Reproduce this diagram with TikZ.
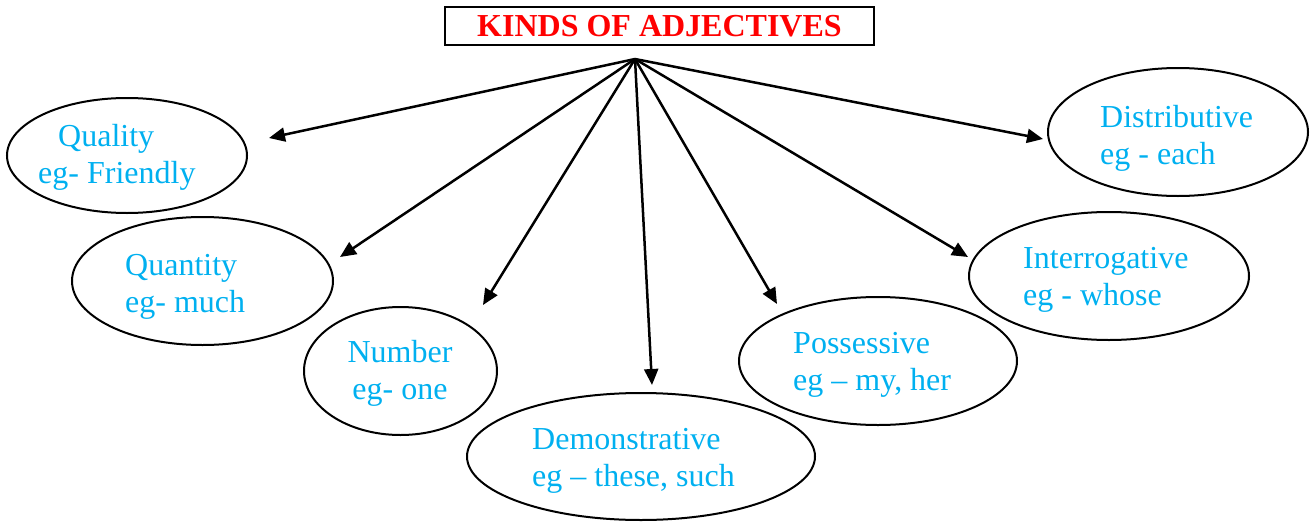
\documentclass[tikz,border=0pt]{standalone}
\usepackage{fontspec}
\setmainfont{Liberation Serif}
\usetikzlibrary{arrows.meta,shapes.geometric}
\definecolor{kindblue}{RGB}{0,176,240}
\tikzset{
  kind/.style={ellipse,draw,line width=2pt,inner sep=0pt},
  kindtext/.style={text=kindblue,align=left,anchor=base west,inner sep=0pt,
    font=\fontsize{32}{37}\selectfont},
  branch/.style={line width=2.5pt,-{Triangle[length=16pt,width=14pt]}}
}

\begin{document}
\begin{tikzpicture}[x=1pt,y=-1pt]
        \useasboundingbox (0,0) rectangle (1312,522);
        % draw title
        \node[draw,line width=2pt,minimum width=429pt,minimum height=38pt,inner sep=0pt,
          text=red,font=\bfseries\fontsize{32}{37}\selectfont] (title) at (659.5,26) {KINDS OF ADJECTIVES};
        % draw ellipses
        \node[kind,minimum width=240pt,minimum height=115pt] (quality) at (127,155.5) {};
        \node[kind,minimum width=261pt,minimum height=128pt] (quantity) at (202.5,281) {};
        \node[kind,minimum width=193pt,minimum height=128pt] (number) at (400.5,371) {};
        \node[kind,minimum width=348pt,minimum height=127pt] (demonstrative) at (641,456.5) {};
        \node[kind,minimum width=278pt,minimum height=128pt] (possessive) at (878,361) {};
        \node[kind,minimum width=280pt,minimum height=128pt] (interrogative) at (1109,276) {};
        \node[kind,minimum width=260pt,minimum height=128pt] (distributive) at (1178,132) {};
        % draw texts (placed at the baseline of the last line)
        \node[kindtext] (qualitytxt) at (38,183) {\hspace*{20pt}Quality\\eg- Friendly};
        \node[kindtext] (quantitytxt) at (125,312) {Quantity\\eg- much};
        \node[kindtext,align=center,anchor=base] (numbertxt) at (400,399) {Number\\eg- one};
        \node[kindtext] (demonstrativetxt) at (532,486) {Demonstrative\\eg -- these, such};
        \node[kindtext] (possessivetxt) at (793,390) {Possessive\\eg -- my, her};
        \node[kindtext] (interrogativetxt) at (1023,305) {Interrogative\\eg - whose};
        \node[kindtext] (distributivetxt) at (1100,164) {Distributive\\eg - each};
        % draw arrows
        \coordinate (apex) at (635,59);
        \coordinate (qualityend) at (269,138);
        \coordinate (quantityend) at (340,257);
        \coordinate (numberend) at (483,305);
        \coordinate (demonstrativeend) at (652,385);
        \coordinate (possessiveend) at (777,304);
        \coordinate (interrogativeend) at (968,257);
        \coordinate (distributiveend) at (1043,139);
        \foreach \e in {qualityend,quantityend,numberend,demonstrativeend,possessiveend,interrogativeend,distributiveend}
        \draw[branch] (apex) -- (\e);
\end{tikzpicture}
\end{document}
